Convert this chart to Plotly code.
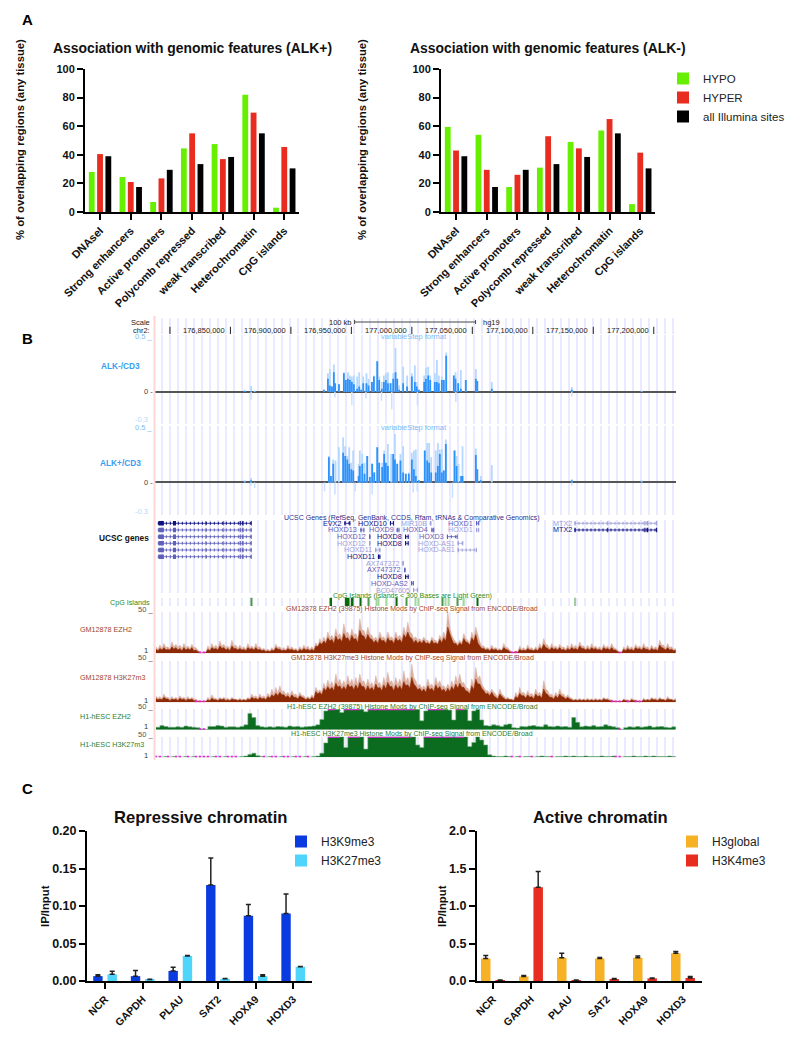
import plotly.graph_objects as go

# ---------- Panel A ----------
features = ["DNAseI", "Strong enhancers", "Active promoters", "Polycomb repressed",
            "weak transcribed", "Heterochromatin", "CpG islands"]
alkpos_hypo = [28, 24.5, 7, 44.5, 47.5, 82, 3]
alkpos_hyper = [40.5, 21, 23.5, 55, 37, 69.5, 45.5]
alkneg_hypo = [59.5, 54, 17.5, 31, 49, 57, 5.5]
alkneg_hyper = [43, 29.5, 26, 53, 44.5, 65, 41.5]
all_sites = [39, 17.5, 29.5, 33.5, 38.5, 55, 30.5]

# ---------- Panel C ----------
loci = ["NCR", "GAPDH", "PLAU", "SAT2", "HOXA9", "HOXD3"]
h3k9 = [0.0065, 0.0065, 0.0135, 0.128, 0.087, 0.09]
h3k9_err = [0.002, 0.0075, 0.005, 0.036, 0.015, 0.026]
h3k27 = [0.009, 0.002, 0.0335, 0.003, 0.0065, 0.019]
h3k27_err = [0.004, 0.0005, 0.0005, 0.0005, 0.002, 0.0005]
h3global = [0.3, 0.06, 0.31, 0.30, 0.31, 0.37]
h3global_err = [0.04, 0.015, 0.06, 0.015, 0.025, 0.025]
h3k4 = [0.01, 1.25, 0.01, 0.025, 0.035, 0.04]
h3k4_err = [0.005, 0.21, 0.005, 0.01, 0.005, 0.02]

# ---------- Panel B: genome browser (positions in kb on chr2) ----------
browser_ticks = [176800, 176850, 176900, 176950, 177000, 177050, 177100, 177150, 177200]
scale_bar = [176952.7, 177052.7]

minus_pos = [176900 + p for p in [-38.2, -32.9, -30, 27.3, 30.6, 32.2, 33.9, 35.5, 36.6, 39.7, 43.8, 45.4, 47.1, 48.8, 50.4, 52.1, 54.8, 56.5, 58.1, 59.8,
             62.5, 64.2, 67, 68.6, 71.4, 73, 75.2, 76.9, 78.5, 80.2, 82.4, 84.6, 86.5, 87.9, 89.5, 92.8, 96.1, 100, 102.5, 104.1,
             105.8, 110.2, 111.6, 113.5, 115.2, 119, 120.7, 122.3, 124.8, 126.4, 128.4, 134.7, 136.1, 138.3, 140.5, 144.6, 152.9, 154.1, 166.1, 232.2, 290]]
minus_light = [.02, .055, .012, .02, .17, .21, .05, .25, .08, .07, .18, .11, .18, .15, .14, .15, .14, .18, .02, .14,
               .17, .12, .09, .15, .28, .14, .09, .15, .17, .18, .08, .17, .40, .12, .06, .23, .15, .17, .24, .09,
               .02, .15, .22, .23, .15, .17, .29, .15, .14, .11, .36, .15, .18, .08, .20, .11, .21, .10, .09, .045, .012]
minus_dark = [.01, .01, .005, .02, .12, .06, .05, .18, .08, .07, .17, .11, .12, .11, .09, .07, .03, .05, .02, .08,
              .08, .06, .09, .14, .28, .11, .03, .09, .11, .08, .08, .12, .18, .12, .02, .08, .05, .14, .09, .05,
              .02, .09, .12, .15, .11, .09, .09, .08, .11, .11, .33, .15, .12, .08, .03, .11, .12, .10, .03, .02, .005]
minus_neg_pos = [176900 + p for p in [-32.9, 36.4, 50.4, 62, 74.9, 83.4, 104.6, 136.4, 232.2]]
minus_neg = [-.07, -.05, -.12, -.06, -.08, -.16, -.12, -.09, -.04]

plus_pos = [176900 + p for p in [-38.2, -32.9, 31.4, 33.1, 35, 36.9, 39.7, 43.2, 44.9, 46.6, 48.2, 49.9, 51.5, 56, 57, 59, 60.9, 63.1, 65.3, 67.2,
            68.9, 71.4, 73, 75.5, 77.1, 78.5, 80.2, 82.9, 84.6, 86, 87.9, 90.6, 92.8, 95, 97.5, 100, 101.7, 103.3, 105.8, 110.7,
            112.7, 114.3, 116, 119.8, 121.5, 123.1, 124.8, 126.4, 128.1, 135.3, 137, 138.6, 140.8, 141.9, 152.9, 154.1, 157, 166.1, 232.2, 290]]
plus_light = [.02, .04, .24, .06, .21, .20, .32, .41, .33, .24, .32, .18, .29, .17, .29, .26, .18, .24, .05, .17,
              .09, .32, .18, .18, .29, .18, .35, .26, .26, .44, .17, .26, .33, .08, .09, .27, .29, .30, .02, .29,
              .36, .36, .23, .29, .36, .30, .30, .11, .39, .29, .24, .17, .06, .33, .31, .12, .06, .16, .03, .02]
plus_dark = [.01, .02, .23, .06, .17, 0, 0, .27, .24, .21, .17, .12, .11, .06, .15, .17, .08, .24, .05, .17,
             .09, .32, .18, .14, .26, .18, .15, 0, .26, .21, .17, .20, .09, .08, .08, .21, .12, .06, .02, .29,
             .20, .18, .09, .09, .15, .26, .09, .11, .35, .29, .15, 0, .06, .06, .25, .12, .02, 0, .02, .01]
plus_neg_pos = [176900 + p for p in [-33, -30, 27.8, 36.4, 53.2, 67.2, 101.1, 104.4, 133.6, 232.2]]
plus_neg = [-.03, -.05, -.08, -.11, -.08, -.11, -.09, -.08, -.14, -.03]

gene_names = ["EVX2", "HOXD10", "MIR10B", "HOXD1", "MTX2", "HOXD13", "HOXD9", "HOXD4", "HOXD1", "MTX2", "HOXD12", "HOXD8",
              "HOXD3", "HOXD12", "HOXD8", "HOXD-AS1", "HOXD11", "HOXD-AS1", "HOXD11", "AX747372", "AX747372", "HOXD8",
              "HOXD-AS2", "BC047605"]
gene_start = [176944.3, 176981.9, 177014.9, 177053.1, 177134.5, 176957.5, 176987.5, 177016.2, 177053.1, 177134.5, 176964.7, 176994.4,
              177029, 176964.7, 176994.4, 177037.9, 176969.7, 177037.9, 176972, 176992.4, 176993.7, 176994.4, 176999.4, 177001]
gene_end = [176949.2, 176985.2, 177016.2, 177055.7, 177202.8, 176960.8, 176989.8, 177018.5, 177055.7, 177202.8, 176965.7, 176997.4,
            177037.9, 176965.7, 176997.4, 177042.5, 176974, 177053.8, 176974, 176993.1, 176994.7, 176997.4, 177001.7, 177005]
gene_row = [0, 0, 0, 0, 0, 1, 1, 1, 1, 1, 2, 2, 2, 3, 3, 3, 4, 4, 5, 6, 7, 8, 9, 10]
gene_shade = [0, 0, 2, 1, 2, 1, 1, 1, 2, 0, 1, 0, 1, 2, 0, 2, 2, 2, 0, 2, 1, 0, 1, 2]

left_gene_rows = [0, 1, 2, 3, 4, 5]
left_gene_shade = [0, 1, 1, 1, 1, 1]
left_gene_span = [176790, 176867.8]
left_exon_start = [176790.5, 176802.5, 176829.4, 176844.2, 176857.6, 176859.8, 176867.2]
left_exon_end = [176795, 176805, 176830, 176844.8, 176858.6, 176860.9, 176867.8]
mtx2_exon_start = [177161.6, 177192.2, 177194.2]
mtx2_exon_end = [177162.4, 177193.2, 177195.5]

cpg_start = [176866.9, 176932, 176944.6, 176949.5, 176956.8, 176963.4, 176970, 176971.7, 176978.3, 176986.5, 176994.8,
             177002.4, 177005.4, 177025.2, 177027.2, 177030.2, 177037.1, 177042.7, 177053.6, 177134.6]
cpg_end = [176867.5, 176934, 176948.5, 176951.8, 176958.4, 176964.4, 176971, 176972.7, 176979.3, 176988.2, 176995.8,
           177003.4, 177006.4, 177026.2, 177028.5, 177031.2, 177038.1, 177043.7, 177054.6, 177135.3]
cpg_shade = [1, 0, 0, 0, 0, 1, 2, 2, 2, 0, 1, 2, 2, 1, 2, 2, 1, 2, 0, 1]

signal_start_kb = 176788.4
signal_step_kb = 3.3056

gm_ezh2_light = [8,10,12,8,14,11,10,12,9,11, 7,2,1,9,12,10,15,11,9,16, 10,10,8,12,9,12,8,6,5,7,
                 11,8,7,10,8,6,8,10,9,8, 13,18,20,26,22,30,24,36,26,30, 24,42,28,32,22,20,26,20,26,20,
                 26,22,32,38,24,20,18,20,16,20, 16,22,26,50,22,14,16,24,16,26, 32,14,9,7,10,7,6,12,7,2,
                 3,9,7,10,7,8,12,18,10,12, 9,11,8,10,12,10,14,9,10,12, 9,8,11,9,12,6,1,8,10,8,
                 11,9,12,8,10,8,16,10,12,8, 6]
gm_ezh2_dark = [5,6,7,5,8,7,6,7,6,7, 4,1,1,5,7,6,9,7,6,9, 6,6,5,7,6,7,5,4,3,4,
                7,5,4,6,5,4,5,6,5,5, 9,13,15,19,17,21,18,24,19,22, 18,28,21,23,17,16,19,16,19,16,
                19,17,23,26,18,16,15,16,13,16, 13,17,19,32,17,12,13,18,13,19, 23,9,6,5,6,5,4,7,4,1,
                2,5,4,6,4,5,7,11,6,7, 6,7,5,6,7,6,9,6,6,7, 6,5,7,6,7,4,1,5,6,5,
                7,6,7,5,6,5,10,6,7,5, 4]
gm_ezh2_valley = [3,4,4,4,5,4,3,4,4,3, 2,0,1,3,5,4,6,4,3,6, 4,4,3,5,4,4,3,2,2,3,
                  5,3,3,4,3,2,3,4,3,3, 8,11,12,15,12,16,14,18,14,17, 13,22,16,18,13,12,15,12,15,12,
                  15,13,19,20,13,12,12,12,11,12, 11,13,15,24,12,9,10,14,10,15, 13,6,4,3,4,3,3,5,2,1,
                  1,3,3,4,3,3,5,7,4,5, 4,4,3,4,5,4,6,4,4,5, 4,3,5,4,4,2,1,3,4,3,
                  5,4,5,3,4,3,7,4,4,3]
gm_k27_light = [8,7,10,6,7,6,8,6,7,6, 4,2,2,6,9,5,6,6,5,6, 4,5,4,6,10,8,10,8,11,16,
                18,20,14,12,14,10,12,8,7,9, 18,15,23,27,25,34,28,26,32,28, 30,34,26,28,24,32,24,30,36,26,
                30,28,38,30,46, 26,22,20,28,22,30,26,20,22,26, 32,34,24,17,28,42,32,18,14,16,
                10,16,8,6,4,12,18,12,14,11, 16,12,26,14,10,12,16,10,9,5, 4,5,4,5,4,5,4,6,5,3,
                1,2,4,3,5,3,2,5,4,6, 5,6,4,7,4,5]
gm_k27_dark = [5,4,6,4,4,4,5,4,4,4, 2,1,1,3,5,3,4,4,3,4, 3,3,3,4,6,5,6,5,7,9,
               11,12,9,8,9,6,8,5,5,6, 13,12,17,19,18,23,20,19,22,20, 21,24,19,20,18,22,18,21,24,19,
               21,20,25,21,30, 19,17,16,20,17,21,19,16,17,19, 22,23,18,13,20,28,22,14,11,12,
               6,10,5,4,3,7,11,8,9,7, 10,8,16,9,6,8,10,6,6,3, 3,3,3,3,3,3,3,4,3,2,
               1,1,3,2,3,2,1,3,3,4, 3,4,3,4,3,3]
gm_k27_valley = [3,3,4,2,3,2,3,2,3,2, 1,1,1,2,3,2,3,2,2,3, 2,2,2,3,4,3,4,3,5,7,
                 8,9,6,5,6,4,6,3,3,4, 10,9,14,15,14,18,15,15,18,15, 16,19,14,15,14,17,14,16,19,14,
                 16,15,20,17,22, 15,13,12,15,13,16,14,12,13,15, 17,18,14,10,15,22,17,10,8,8,
                 4,7,3,3,2,5,8,5,6,4, 7,5,11,6,4,5,7,4,4,2, 2,2,2,2,2,2,2,3,2,1,
                 1,1,2,1,2,1,1,2,2,3, 2,3,2,3,2]
h1_ezh2 = [6,10,8,6,6,7,6,9,7,6, 5,2,1,8,8,10,9,6,7,7, 6,8,12,40,30,10,7,6,7,6,
           8,7,6,9,7,8,6,7,8,9, 12,25,46,50,50,50,42,50,50,50, 50,50,44,50,50,50,50,50,50,50,
           50,50,50,50,50,50,22,46,50,50, 50,50,50,48,24,50,50,50,22,46, 50,24,10,9,12,10,8,12,14,5,
           4,8,7,9,10,8,7,12,8,7, 9,7,8,6,30,18,7,9,8,10, 7,8,12,9,7,5,1,5,7,6,
           8,6,7,9,6,7,8,6,5,7, 5]
h1_k27 = [1,1,2,1,2,1,1,2,1,2, 1,1,1,1,2,1,1,2,1,1, 1,2,3,7,10,4,2,1,2,1,
          1,2,1,1,2,1,1,2,1,2, 3,10,35,50,50,50,50,24,50,50, 50,50,20,50,50,50,50,50,50,50,
          50,50,50,50,50,30,24,50,50,50, 50,50,50,50,50,50,50,50,26,36, 50,42,30,6,3,2,2,3,2,1,
          2,1,2,2,1,2,3,2,2,1, 2,2,3,2,3,2,2,3,2,2, 2,3,2,2,3,1,1,2,2,3,
          2,2,3,2,3,2,2,2,3,2, 2]

# ---------- Style ----------
W, H = 800, 1038
ML, MR, MT, MB = 40, 0, 30, 30
FONT = "Liberation Sans"
GREEN, RED, BLACK = "#66f000", "#e82c20", "#000000"
BLUE, CYAN, ORANGE = "#0a3be0", "#4fd4fb", "#f6b224"
SHADES = ["#101080", "#6060b8", "#a0a0d8"]
CPG_SHADES = ["#0a6a0a", "#4a9a4a", "#a0d8a0"]
GENOME_RANGE = [176786.4, 177218.4]
GENOME_DOM = [153.5, 676]
MAGENTA = "#f020e0"


def fx(x):
    return (x - ML) / (W - ML - MR)


def fy(y):
    return 1 - (y - MT) / (H - MT - MB)


def xdom(a, b):
    return [fx(a), fx(b)]


def ydom(top, bottom):
    return [fy(bottom), fy(top)]


fig = go.Figure()
ann = []


def T(text, x, y, size=8, color="#222222", anchor="left", bold=False, angle=0):
    ann.append(dict(text=f"<b>{text}</b>" if bold else text, x=fx(x), y=fy(y), xref="paper", yref="paper",
                    xanchor=anchor, yanchor="middle", showarrow=False, textangle=angle,
                    font=dict(size=size, color=color, family=FONT)))


def bar_axes(n, xd, yd, yrange, dtick, cats, xr, tickfmt=None, ticksize=11, catsize=11):
    xname, yname = ("xaxis" if n == 1 else f"xaxis{n}"), ("yaxis" if n == 1 else f"yaxis{n}")
    fig.layout[xname] = dict(domain=xdom(*xd), anchor="y" if n == 1 else f"y{n}", type="category",
                             categoryorder="array", categoryarray=cats, range=xr,
                             showline=True, linecolor="black", linewidth=2, ticks="outside", ticklen=6, tickwidth=2,
                             tickcolor="black", tickangle=-45, showgrid=False, zeroline=False,
                             tickfont=dict(size=catsize, family=FONT, weight="bold", color="#111111"))
    fig.layout[yname] = dict(domain=ydom(*yd), anchor="x" if n == 1 else f"x{n}", range=yrange, dtick=dtick,
                             showline=True, linecolor="black", linewidth=2, ticks="outside", ticklen=6, tickwidth=2,
                             tickcolor="black", showgrid=False, zeroline=False, tickformat=tickfmt,
                             tickfont=dict(size=ticksize, family=FONT, weight="bold", color="#111111"))


def grouped(n, cats, series, names, colors, errs=None, width=0.19, offsets=(0,), legend=None):
    ax = "x" if n == 1 else f"x{n}"
    ay = "y" if n == 1 else f"y{n}"
    for k, (vals, name, col) in enumerate(zip(series, names, colors)):
        kw = {}
        if errs:
            kw["error_y"] = dict(type="data", array=errs[k], arrayminus=[0] * len(cats), symmetric=False,
                                 color="#222222", thickness=1.5, width=2.5)
        fig.add_trace(go.Bar(x=cats, y=vals, name=name, marker=dict(color=col, line=dict(width=0)), xaxis=ax, yaxis=ay,
                             width=width, offset=offsets[k] - width / 2, showlegend=legend is not None,
                             legend=legend, **kw))


# Panel A
A_OFF = (-0.27, 0, 0.27)
A_NAMES = ["HYPO", "HYPER", "all Illumina sites"]
A_COLORS = [GREEN, RED, BLACK]
bar_axes(1, (85, 299), (69, 212), [0, 100], 20, features, [-0.49, 6.48])
grouped(1, features, [alkpos_hypo, alkpos_hyper, all_sites], A_NAMES, A_COLORS, width=0.19, offsets=A_OFF)
bar_axes(2, (441, 655), (69, 212), [0, 100], 20, features, [-0.49, 6.48])
grouped(2, features, [alkneg_hypo, alkneg_hyper, all_sites], A_NAMES, A_COLORS, width=0.19, offsets=A_OFF, legend="legend")

# Panel C
C_OFF = (-0.19, 0.19)
bar_axes(3, (87, 312), (831, 981), [0, 0.2], 0.05, loci, [-0.48, 5.5], tickfmt=".2f", ticksize=12.5, catsize=10.5)
grouped(3, loci, [h3k9, h3k27], ["H3K9me3", "H3K27me3"], [BLUE, CYAN], errs=[h3k9_err, h3k27_err], width=0.25,
        offsets=C_OFF, legend="legend2")
bar_axes(4, (477, 702), (831, 981), [0, 2], 0.5, loci, [-0.42, 5.5], tickfmt=".1f", ticksize=12.5, catsize=10.5)
grouped(4, loci, [h3global, h3k4], ["H3global", "H3K4me3"], [ORANGE, RED], errs=[h3global_err, h3k4_err], width=0.25,
        offsets=C_OFF, legend="legend3")

# Panel B axes
fig.layout.xaxis5 = dict(domain=xdom(*GENOME_DOM), range=GENOME_RANGE, anchor="y5", showgrid=True, gridcolor="#e9e9ff",
                         gridwidth=1.6, tick0=176925.4, dtick=6.61, showticklabels=False, ticks="", showline=False,
                         zeroline=False)


def track_axis(n, top, bottom, yrange, zero=False):
    fig.layout[f"yaxis{n}"] = dict(domain=ydom(top, bottom), range=yrange, anchor="x5", showticklabels=False, ticks="",
                                   showgrid=False, showline=False, zeroline=zero, zerolinecolor="#555555",
                                   zerolinewidth=1.6, fixedrange=True)


track_axis(5, 316, 760, [0, 1])
track_axis(6, 335, 424, [-0.291, 0.518], zero=True)
track_axis(7, 425.5, 514.5, [-0.291, 0.518], zero=True)
track_axis(8, 520, 593, [10.45, -0.495])
track_axis(9, 597.5, 606, [0, 1])
track_axis(10, 612.3, 653.3, [0, 50])
track_axis(11, 660.8, 702.3, [0, 50])
track_axis(12, 709.3, 729.7, [0, 50])
track_axis(13, 736.7, 757.3, [0, 50])
track_axis(14, 318, 334, [0, 2])


def line_trace(xs, ys, axis, color, width, dash=None, mode="lines", marker=None, shape="linear", clip=True):
    fig.add_trace(go.Scatter(x=xs, y=ys, xaxis="x5", yaxis=axis, mode=mode, showlegend=False, hoverinfo="skip",
                             line=dict(color=color, width=width, dash=dash, shape=shape), marker=marker,
                             connectgaps=False, cliponaxis=clip))


def spikes(pos, vals, axis, color, width):
    xs, ys = [], []
    for p, v in zip(pos, vals):
        xs += [p, p, None]
        ys += [0, v, None]
    line_trace(xs, ys, axis, color, width)


LIGHT_BLUE, DARK_BLUE = "#b4d8ff", "#2d92fb"
spikes(minus_pos, minus_light, "y6", LIGHT_BLUE, 1.8)
spikes(minus_neg_pos, minus_neg, "y6", "#c9e2ff", 1.5)
spikes(minus_pos, minus_dark, "y6", DARK_BLUE, 1.8)
spikes(plus_pos, plus_light, "y7", LIGHT_BLUE, 1.8)
spikes(plus_neg_pos, plus_neg, "y7", "#c9e2ff", 1.5)
spikes(plus_pos, plus_dark, "y7", DARK_BLUE, 1.8)

# Browser ruler
for t in browser_ticks:
    line_trace([t, t], [0, 0.9], "y14", "#222222", 1)
line_trace(scale_bar, [1.5, 1.5], "y14", "#444444", 1)
for t in scale_bar:
    line_trace([t, t], [1.25, 1.75], "y14", "#444444", 1)
for t in browser_ticks[1:]:
    ann.append(dict(text=f"{t * 1000:,}", x=t, y=0.5, xref="x5", yref="y14", xanchor="right", yanchor="middle",
                    xshift=-3, showarrow=False, font=dict(size=7.5, color="#222222", family=FONT)))
ann.append(dict(text="100 kb", x=scale_bar[0], y=1.5, xref="x5", yref="y14", xanchor="right", yanchor="middle", xshift=-1,
                showarrow=False, font=dict(size=7.5, color="#222222", family=FONT)))
ann.append(dict(text="hg19", x=scale_bar[1], y=1.5, xref="x5", yref="y14", xanchor="left", yanchor="middle", xshift=5,
                showarrow=False, font=dict(size=7.5, color="#222222", family=FONT)))

# Genes
for shade in (2, 1, 0):
    col = SHADES[shade]
    lx, ly, ex, ey = [], [], [], []
    for s, e, r, sh in zip(gene_start, gene_end, gene_row, gene_shade):
        if sh == shade:
            lx += [s, e, None]
            ly += [r, r, None]
            ex += [s, s + 0.9, None, e - 0.9, e, None]
            ey += [r, r, None, r, r, None]
    for r, sh in zip(left_gene_rows, left_gene_shade):
        if sh == shade:
            lx += [left_gene_span[0], left_gene_span[1], None]
            ly += [r, r, None]
            for s, e in zip(left_exon_start, left_exon_end):
                ex += [s, e, None]
                ey += [r, r, None]
    for s, e, r, sh in zip(gene_start, gene_end, gene_row, gene_shade):
        if sh == shade and e - s > 40:
            for a, b in zip(mtx2_exon_start, mtx2_exon_end):
                ex += [a, b, None]
                ey += [r, r, None]
    line_trace(lx, ly, "y8", col, 0.8)
    line_trace(lx, ly, "y8", col, 3, dash="1px,3px")
    line_trace(ex, ey, "y8", col, 4.5)
for name, s, r, sh in zip(gene_names, gene_start, gene_row, gene_shade):
    ann.append(dict(text=name, x=s, y=r, xref="x5", yref="y8", xanchor="right", yanchor="middle", xshift=-1,
                    showarrow=False, font=dict(size=7.2, color=SHADES[sh], family=FONT)))

# CpG islands
fig.add_trace(go.Bar(x=[(a + b) / 2 for a, b in zip(cpg_start, cpg_end)], y=[1] * len(cpg_start),
                     width=[b - a for a, b in zip(cpg_start, cpg_end)], xaxis="x5", yaxis="y9", showlegend=False,
                     hoverinfo="skip", marker=dict(color=[CPG_SHADES[s] for s in cpg_shade], line=dict(width=0))))


# Signal tracks
def weave(peaks, between):
    out = []
    for i, p in enumerate(peaks):
        out.append(p)
        if i < len(between) and i < len(peaks) - 1:
            out.append(between[i])
    return out


def signal(vals, axis, color, line_color, between=None, light=None, light_color=None, thresh=2):
    xs = [signal_start_kb + signal_step_kb * i for i in range(len(vals))]
    half = [signal_start_kb + signal_step_kb * i / 2 for i in range(2 * len(vals) - 1)]
    if light is not None:
        fig.add_trace(go.Scatter(x=half, y=weave(light, vals), xaxis="x5", yaxis=axis, mode="lines", fill="tozeroy",
                                 fillcolor=light_color, line=dict(color=light_color, width=0.5, simplify=False),
                                 showlegend=False, hoverinfo="skip"))
    if between is not None:
        fig.add_trace(go.Scatter(x=half, y=weave(vals, between), xaxis="x5", yaxis=axis, mode="lines", fill="tozeroy",
                                 fillcolor=color, line=dict(color=line_color, width=0.5, simplify=False),
                                 showlegend=False, hoverinfo="skip"))
    else:
        fig.add_trace(go.Scatter(x=xs, y=vals, xaxis="x5", yaxis=axis, mode="lines", fill="tozeroy", fillcolor=color,
                                 line=dict(color=line_color, width=0.6, shape="hv", simplify=False),
                                 showlegend=False, hoverinfo="skip"))
    top = [50 if v >= 50 else None for v in vals]
    line_trace(xs, top, axis, MAGENTA, 2, shape="hv", clip=False)
    low = [0.8 if v <= thresh else None for v in vals]
    line_trace(xs, low, axis, MAGENTA, 0, mode="markers", marker=dict(color=MAGENTA, size=2.2, symbol="square"))


RUST, RUST_L = "#8c2a06", "#dcaf9f"
GRN, GRN_L = "#0b6b1e", "#77b084"
signal(gm_ezh2_dark, "y10", RUST, RUST, between=gm_ezh2_valley, light=gm_ezh2_light, light_color=RUST_L)
signal(gm_k27_dark, "y11", RUST, RUST, between=gm_k27_valley, light=gm_k27_light, light_color=RUST_L)
signal(h1_ezh2, "y12", GRN, GRN_L)
signal(h1_k27, "y13", GRN, GRN_L, thresh=1)

# Static text
T("A", 27, 20, 15, "black", "center", True)
T("B", 27, 338, 15, "black", "center", True)
T("C", 27, 788, 15, "black", "center", True)
T("Association with genomic features (ALK+)", 192, 48, 13.9, "#111111", "center", True)
T("Association with genomic features (ALK-)", 548, 48, 13.9, "#111111", "center", True)
T("% of overlapping regions (any tissue)", 20, 140, 11.3, "#111111", "center", True, -90)
T("% of overlapping regions (any tissue)", 362, 140, 11.3, "#111111", "center", True, -90)
T("Repressive chromatin", 200, 817, 16.6, "#111111", "center", True)
T("Active chromatin", 600, 817, 16.6, "#111111", "center", True)
T("IP/Input", 45, 906, 11.3, "#111111", "center", True, -90)
T("IP/Input", 442, 906, 11.3, "#111111", "center", True, -90)

T("Scale", 152, 322, 7.5, "#222222", "right")
T("chr2:", 152, 330, 7.5, "#222222", "right")
TITLE_X = 412
SKY, SKY_L, SKY_XL = "#3a9df0", "#7dbcf5", "#b5d8f8"
T("0.5 _", 155, 336.7, 7.5, SKY_L, "right")
T("0 -", 155, 392, 7.5, "#444444", "right")
T("-0.3", 150, 420, 7.5, SKY_XL, "right")
T("0.5 _", 155, 427.5, 7.5, SKY_L, "right")
T("0 -", 155, 482.5, 7.5, "#444444", "right")
T("-0.3", 150, 511, 7.5, SKY_XL, "right")
T("variableStep format", TITLE_X + 2, 336.7, 7.5, SKY_L, "center")
T("variableStep format", TITLE_X + 2, 427.7, 7.5, SKY_L, "center")
T("ALK-/CD3", 120, 366, 8.3, SKY, "center", True)
T("ALK+/CD3", 120, 463, 8.3, SKY, "center", True)
T("UCSC genes", 151, 538, 8.3, "#111111", "right", True)
T("UCSC Genes (RefSeq, GenBank, CCDS, Rfam, tRNAs &amp; Comparative Genomics)", TITLE_X, 517.5, 7, "#2a2a8a", "center")
T("CpG Islands (Islands &lt; 300 Bases are Light Green)", TITLE_X, 596, 7, "#1e8c1e", "center")
T("CpG Islands", 152, 602, 7.2, "#2a8a2a", "right")
RTXT, GTXT = "#a0452a", "#1f8030"
T("GM12878 EZH2 (39875) Histone Mods by ChIP-seq Signal from ENCODE/Broad", TITLE_X, 609, 7, RTXT, "center")
T("GM12878 H3K27me3 Histone Mods by ChIP-seq Signal from ENCODE/Broad", TITLE_X, 657.7, 7, RTXT, "center")
T("H1-hESC EZH2 (39875) Histone Mods by ChIP-seq Signal from ENCODE/Broad", TITLE_X, 706.7, 7, GTXT, "center")
T("H1-hESC H3K27me3 Histone Mods by ChIP-seq Signal from ENCODE/Broad", TITLE_X, 734, 7, GTXT, "center")
T("GM12878 EZH2", 78, 629, 7.2, RTXT)
T("GM12878 H3K27m3", 78, 677.7, 7.2, RTXT)
T("H1-hESC EZH2", 78, 716, 7.2, GTXT)
T("H1-hESC H3K27m3", 78, 744, 7.2, GTXT)
for y50, y1 in [(609, 650.7), (657.7, 700), (706.7, 726.7), (734, 755)]:
    T("50 _", 155, y50, 7.5, "#555555", "right")
    T("1", 150, y1, 7.5, "#333333", "right")


def legend_cfg(x, y, size):
    return dict(x=fx(x), y=fy(y), xref="paper", yref="paper", xanchor="left", yanchor="top", bgcolor="rgba(0,0,0,0)",
                borderwidth=0, font=dict(size=size, color="#222222", family=FONT), itemclick=False, itemdoubleclick=False,
                tracegroupgap=0, traceorder="normal")


fig.update_layout(
    width=W, height=H, margin=dict(l=ML, r=MR, t=MT, b=MB), paper_bgcolor="white", plot_bgcolor="white",
    barmode="overlay", font=dict(family=FONT), annotations=ann,
    legend=legend_cfg(663, 64, 11.5), legend2=legend_cfg(281, 827, 12), legend3=legend_cfg(672, 827, 12),
    shapes=[dict(type="line", xref="paper", yref="paper", x0=fx(154.5), x1=fx(154.5), y0=fy(760), y1=fy(316),
                 line=dict(color="#ffd6d6", width=2), layer="above")],
)

fig.write_html("out.html", config=dict(displayModeBar=False),
               post_script="document.body.style.margin='0';document.body.style.overflow='hidden';")
